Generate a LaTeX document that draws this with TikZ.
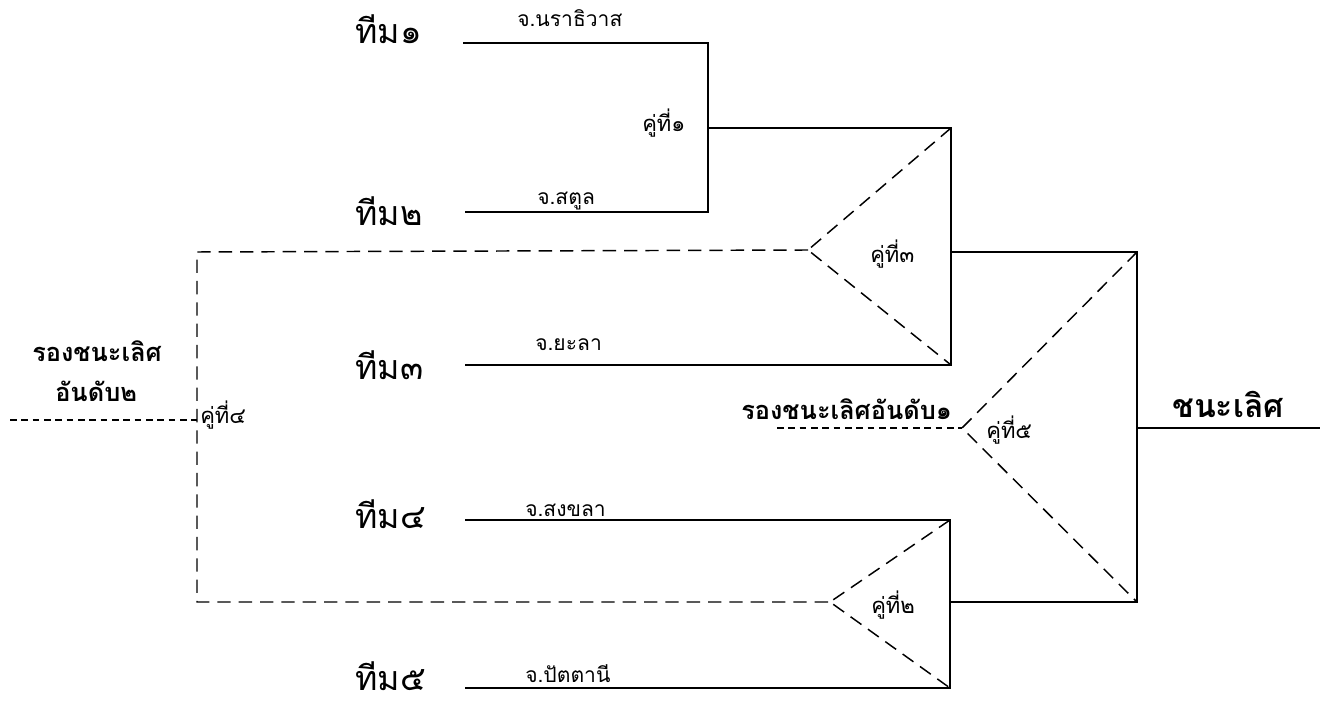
\documentclass[tikz,border=0pt]{standalone}
\usepackage{fontspec}
\newfontfamily\thai[Script=Thai]{Loma}
\begin{document}
\begin{tikzpicture}[x=0.75pt,y=-0.75pt,
  solidline/.style={line width=1.35pt,line join=miter},
  longdash/.style={line width=1.1pt,dash pattern=on 10pt off 6pt},
  shortdash/.style={line width=0.9pt,dash pattern=on 5pt off 3.5pt},
  team/.style={font=\thai\fontsize{25.5}{28}\selectfont,anchor=base west,inner sep=0pt},
  prov/.style={font=\thai\fontsize{15.8}{18}\selectfont,anchor=base west,inner sep=0pt},
  pair/.style={font=\thai\fontsize{16.5}{19}\selectfont,anchor=base west,inner sep=0pt},
  result/.style={font=\thai\bfseries\fontsize{19}{22}\selectfont,anchor=base west,inner sep=0pt},
  winner/.style={font=\thai\bfseries\fontsize{24}{27}\selectfont,anchor=base west,inner sep=0pt}]
\useasboundingbox (0,0) rectangle (1330,705);
% coordinates
\coordinate (t1) at (463,43);
\coordinate (p1a) at (708,43);
\coordinate (t2) at (465,212);
\coordinate (p1b) at (708,212);
\coordinate (p1m) at (708,128);
\coordinate (p3a) at (951,128);
\coordinate (p3b) at (951,365);
\coordinate (t3) at (465,365);
\coordinate (p3m) at (951,252);
\coordinate (ap3) at (808,250);
\coordinate (l4a) at (197,252);
\coordinate (l4b) at (197,602);
\coordinate (l4m) at (197,420);
\coordinate (out4) at (10,420);
\coordinate (t4) at (465,520);
\coordinate (p2a) at (950,520);
\coordinate (t5) at (465,688);
\coordinate (p2b) at (950,688);
\coordinate (p2m) at (950,602);
\coordinate (ap2) at (830,602);
\coordinate (p5a) at (1137,252);
\coordinate (p5b) at (1137,602);
\coordinate (p5m) at (1137,428);
\coordinate (win) at (1320,428);
\coordinate (ap5) at (962,428);
\coordinate (ru1) at (777,428);
% solid bracket lines
\draw[solidline] (t1) -- (p1a) -- (p1b) -- (t2);
\draw[solidline] (p1m) -- (p3a) -- (p3b) -- (t3);
\draw[solidline] (p3m) -- (p5a) -- (p5b) -- (p2m);
\draw[solidline] (t4) -- (p2a) -- (p2b) -- (t5);
\draw[solidline] (p5m) -- (win);
% dashed losers' paths
\draw[longdash] (p3a) -- (ap3) -- (p3b);
\draw[longdash] (ap3) -- (l4a) -- (l4b) -- (ap2);
\draw[longdash] (p2a) -- (ap2) -- (p2b);
\draw[longdash] (p5a) -- (ap5) -- (p5b);
\draw[shortdash] (ru1) -- (ap5);
\draw[shortdash] (out4) -- (l4m);
% team labels
\node[team] (n1) at (355,44) {ทีม๑};
\node[team] (n2) at (355,226) {ทีม๒};
\node[team] (n3) at (355,380) {ทีม๓};
\node[team] (n4) at (355,528) {ทีม๔};
\node[team] (n5) at (355,690) {ทีม๕};
% provinces
\node[prov] (v1) at (517,27) {จ.นราธิวาส};
\node[prov] (v2) at (537,205) {จ.สตูล};
\node[prov] (v3) at (535,351) {จ.ยะลา};
\node[prov] (v4) at (525,516) {จ.สงขลา};
\node[prov] (v5) at (525,682) {จ.ปัตตานี};
% pair labels
\node[pair] (k1) at (642,132) {คู่ที่๑};
\node[pair] (k3) at (870,263) {คู่ที่๓};
\node[pair] (k4) at (200,423) {คู่ที่๔};
\node[pair] (k5) at (986,438) {คู่ที่๕};
\node[pair] (k2) at (871,613) {คู่ที่๒};
% results
\node[result] (r2a) at (32,362) {รองชนะเลิศ};
\node[result] (r2b) at (55,402) {อันดับ๒};
\node[result] (r1) at (741,420) {รองชนะเลิศอันดับ๑};
\node[winner] (w) at (1172,417) {ชนะเลิศ};
\end{tikzpicture}
\end{document}
